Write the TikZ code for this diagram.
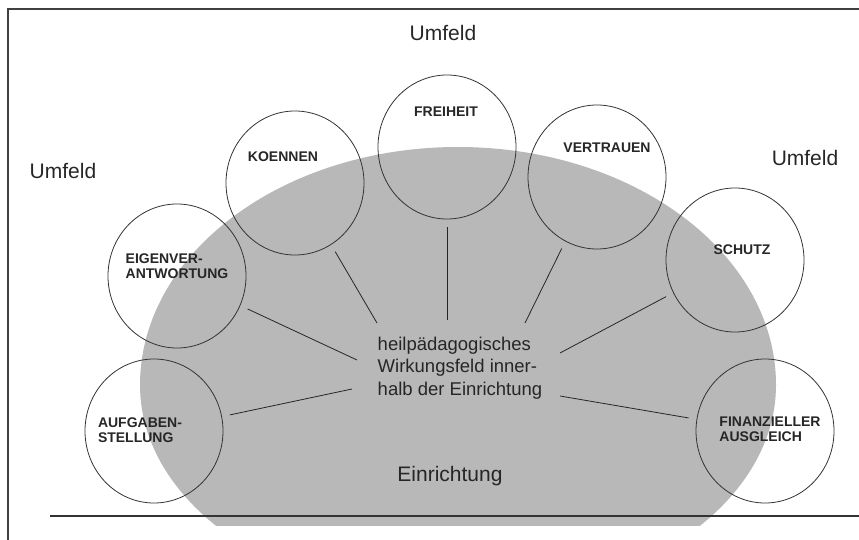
\documentclass[tikz,border=0pt]{standalone}
\usepackage{fontspec}
\setmainfont{Liberation Sans}
\usetikzlibrary{shapes.geometric}
\definecolor{raster}{gray}{0.72}

\begin{document}
\begin{tikzpicture}[x=1pt,y=-1pt,
  kreis/.style={draw=black!80, ellipse, minimum width=138pt, minimum height=144pt, inner sep=0pt, line width=0.8pt},
  marke/.style={font=\fontsize{14}{14.5}\selectfont\bfseries, align=left, text=black!85, inner sep=0pt},
  umfeld/.style={font=\fontsize{21}{25}\selectfont, text=black!85, inner sep=0pt},
  strahl/.style={draw=black!85, line width=0.8pt, shorten <=8pt}]
 \useasboundingbox (0,0) rectangle (859,540);

 % Einrichtung (Raster)
 \begin{scope}
  \clip (0,0) rectangle (859,525);
  \fill[raster] (140,385) arc[start angle=180, end angle=360, x radius=318, y radius=238]
   arc[start angle=0, end angle=180, x radius=318, y radius=217] -- cycle;
 \end{scope}

 % Rahmen
 \draw[line width=1.3pt, black!75] (8,540) -- (8,9) -- (859,9);
 \draw[line width=2pt, black!80] (50,516) -- (859,516);

 % Kreise
 \node[kreis] (koennen) at (295,183) {};
 \node[kreis] (freiheit) at (447,147) {};
 \node[kreis] (vertrauen) at (597,177) {};
 \node[kreis] (schutz) at (735,260) {};
 \node[kreis] (eigen) at (177,276) {};
 \node[kreis] (aufgabe) at (154,431) {};
 \node[kreis] (finanz) at (765,431) {};

 \node[marke] (t-koennen) at (283,157) {KOENNEN};
 \node[marke] (t-freiheit) at (446,112) {FREIHEIT};
 \node[marke] (t-vertrauen) at (607,148) {VERTRAUEN};
 \node[marke] (t-schutz) at (742,250) {SCHUTZ};
 \node[marke] (t-eigen) at (177,266) {EIGENVER-\\ANTWORTUNG};
 \node[marke] (t-aufgabe) at (140,430) {AUFGABEN-\\STELLUNG};
 \node[marke] (t-finanz) at (770,429) {FINANZIELLER\\AUSGLEICH};

 % Mitte
 \node[font=\fontsize{18.5}{22.5}\selectfont, align=left, text=black!85, inner sep=0pt] (feld) at (460,368) {heilpädagogisches\\Wirkungsfeld inner-\\halb der Einrichtung};
 \node[umfeld] (einr) at (450,476) {Einrichtung};

 \node[umfeld] (u-oben) at (443,33) {Umfeld};
 \node[umfeld] (u-links) at (63,171) {Umfeld};
 \node[umfeld] (u-rechts) at (805,158) {Umfeld};

 % Strahlen
 \coordinate (e-koennen) at (377,323);
 \coordinate (e-freiheit) at (447,320);
 \coordinate (e-vertrauen) at (525,323);
 \coordinate (e-schutz) at (560,353);
 \coordinate (e-eigen) at (357,360);
 \coordinate (e-aufgabe) at (352,389);
 \coordinate (e-finanz) at (560,396);
 \foreach \k in {koennen,freiheit,vertrauen,schutz,eigen,aufgabe,finanz}
  \draw[strahl] (\k) -- (e-\k);

\end{tikzpicture}
\end{document}
